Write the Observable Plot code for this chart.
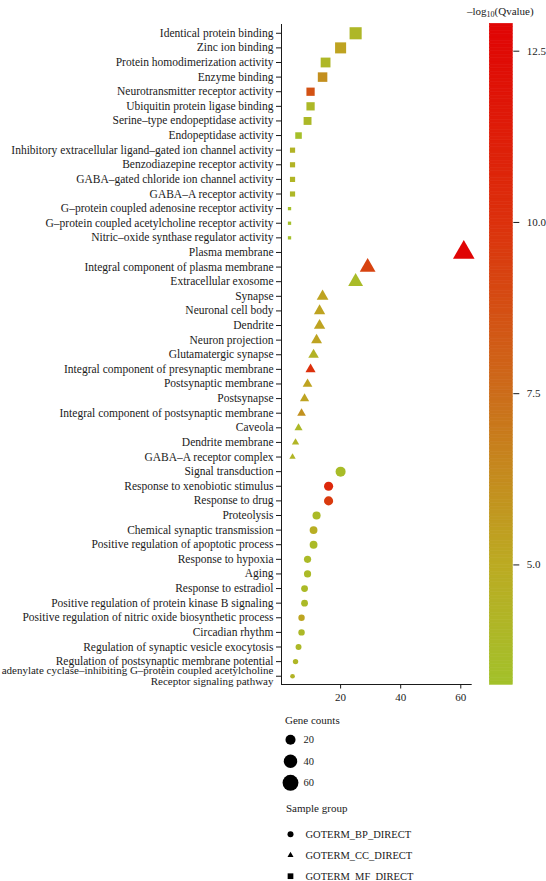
<!DOCTYPE html>
<html><head><meta charset="utf-8">
<script src="https://cdn.jsdelivr.net/npm/d3@7"></script>
<script src="https://cdn.jsdelivr.net/npm/@observablehq/plot@0.6"></script>
<style>
body{margin:0;background:#fff;}
#wrap{position:relative;width:546px;height:881px;font-family:"Liberation Serif",serif;color:#1a1a1a;overflow:hidden;}
#wrap > *{position:absolute;}
.ttl{font-size:11px;white-space:nowrap;}
sub{font-size:8px;vertical-align:-2px;}
</style></head><body><div id="wrap"></div>
<script>
// ---- data ----
const mfTerms = ["Identical protein binding","Zinc ion binding","Protein homodimerization activity","Enzyme binding","Neurotransmitter receptor activity","Ubiquitin protein ligase binding","Serine–type endopeptidase activity","Endopeptidase activity","Inhibitory extracellular ligand–gated ion channel activity","Benzodiazepine receptor activity","GABA–gated chloride ion channel activity","GABA–A receptor activity","G–protein coupled adenosine receptor activity","G–protein coupled acetylcholine receptor activity","Nitric–oxide synthase regulator activity"];
const mfCounts = [25,20,15,14,10,10,9,6,4,4,4,4,3,3,3];
const mfLogQ = [4.0,5.3,4.0,6.1,8.6,3.9,3.9,3.4,4.3,4.3,4.2,4.0,3.3,3.3,3.3];

const ccTerms = ["Plasma membrane","Integral component of plasma membrane","Extracellular exosome","Synapse","Neuronal cell body","Dendrite","Neuron projection","Glutamatergic synapse","Integral component of presynaptic membrane","Postsynaptic membrane","Postsynapse","Integral component of postsynaptic membrane","Caveola","Dendrite membrane","GABA–A receptor complex"];
const ccCounts = [61,29,25,14,13,13,12,11,10,9,8,7,6,5,4];
const ccLogQ = [12.9,9.2,3.7,5.3,5.3,5.3,5.3,4.4,10.0,5.3,5.3,6.0,3.9,4.2,4.2];

const bpTerms = ["Signal transduction","Response to xenobiotic stimulus","Response to drug","Proteolysis","Chemical synaptic transmission","Positive regulation of apoptotic process","Response to hypoxia","Aging","Response to estradiol","Positive regulation of protein kinase B signaling","Positive regulation of nitric oxide biosynthetic process","Circadian rhythm","Regulation of synaptic vesicle exocytosis","Regulation of postsynaptic membrane potential","adenylate cyclase–inhibiting G–protein coupled acetylcholine\nReceptor signaling pathway"];
const bpCounts = [20,16,16,12,11,11,9,9,8,8,7,7,6,5,4];
const bpLogQ = [3.6,10.5,9.6,3.8,4.7,3.8,3.8,3.8,3.8,3.8,5.2,3.9,3.9,4.1,4.3];

const groupNames = ["GOTERM_BP_DIRECT","GOTERM_CC_DIRECT","GOTERM_MF_DIRECT"];
const xTicks = [20,40,60];
const colorTicks = [5,7.5,10,12.5];
const sizeBreaks = [20,40,60];

// colour ramp stops
const colorStops = [3.25,5,7.5,10,12.9];
const colorStopColors = ["#a3c12a","#bcaa22","#cc6c1a","#dc300c","#e00404"];

// ---- build table ----
const rows = [];
function add(terms, counts, logq, group){ terms.forEach((t,i)=>rows.push({term:t,count:counts[i],logq:logq[i],group})); }
add(mfTerms, mfCounts, mfLogQ, "GOTERM_MF_DIRECT");
add(ccTerms, ccCounts, ccLogQ, "GOTERM_CC_DIRECT");
add(bpTerms, bpCounts, bpLogQ, "GOTERM_BP_DIRECT");
const order = [...mfTerms, ...ccTerms, ...bpTerms];
const minCount = d3.min(rows, d=>d.count), maxCount = d3.max(rows, d=>d.count);
const colorDomain = [colorStops[0], colorStops[colorStops.length-1]];
const xDomain = [0.33, 63.8];

// custom symbols (ggplot-like proportions)
function sq(k){return {draw(ctx,size){const r=Math.sqrt(size/Math.PI)*k; ctx.rect(-r,-r,2*r,2*r);}};}
function tri(k){return {draw(ctx,size){const r=Math.sqrt(size/Math.PI); const w=2*r*k; const R=w/Math.sqrt(3); ctx.moveTo(0,-R); ctx.lineTo(w/2,R/2); ctx.lineTo(-w/2,R/2); ctx.closePath();}};}
const symMain = {GOTERM_BP_DIRECT:"circle", GOTERM_CC_DIRECT:tri(1.35), GOTERM_MF_DIRECT:sq(1.1)};
const symLegend = {GOTERM_BP_DIRECT:"circle", GOTERM_CC_DIRECT:tri(1.0), GOTERM_MF_DIRECT:sq(0.95)};

const rScale = {type:"sqrt", domain:[0, maxCount-minCount], range:[1.5, 8]};
const colorScale = {type:"linear", domain:colorStops, range:colorStopColors, interpolate:"rgb"};
const font = (s)=>({fontFamily:'"Liberation Serif", serif', fontSize:s, color:"#1a1a1a", background:"transparent"});

const wrap = document.getElementById("wrap");

// ---- main plot ----
const W = 546, H = 881, mL = 281, mR = 74.3, mT = 24, mB = 196.5;
const main = Plot.plot({
  width:W, height:H,
  marginLeft:mL, marginRight:mR, marginTop:mT, marginBottom:mB,
  style:font("11.5px"),
  x:{domain:xDomain, label:null},
  y:{type:"point", domain:order, padding:0.6, round:false, label:null},
  r:rScale, color:colorScale,
  marks: [
    Plot.axisX({ticks:xTicks, tickSize:4, tickPadding:4, label:null, fontSize:11}),
    Plot.axisY({tickSize:5, tickPadding:3, label:null, lineHeight:0.95,
      fontSize: d => d.includes("\n") ? 11 : 11.5}),
    Plot.ruleX([xDomain[0]], {stroke:"#1a1a1a"}),
    ...groupNames.map(g => Plot.dot(rows.filter(d=>d.group===g), {
      x:"count", y:"term", r:d=>d.count-minCount, fill:"logq", symbol:symMain[g]
    }))
  ]
});
// x axis line along the bottom of the frame
{
  const svgNS = "http://www.w3.org/2000/svg";
  const ln = document.createElementNS(svgNS, "line");
  ln.setAttribute("x1", mL); ln.setAttribute("x2", W-mR);
  ln.setAttribute("y1", H-mB); ln.setAttribute("y2", H-mB);
  ln.setAttribute("stroke", "#1a1a1a");
  main.appendChild(ln);
}
main.style.left="0px"; main.style.top="0px";
wrap.appendChild(main);

// ---- colorbar ----
const step = 0.05;
const cbSteps = d3.range(colorDomain[0], colorDomain[1], step);
const cb = Plot.plot({
  width:66, height:700, marginLeft:9.3, marginRight:33.7, marginTop:23.3, marginBottom:15.7,
  style:font("11px"),
  y:{domain:colorDomain, axis:"right", ticks:colorTicks, tickFormat:".1f", tickSize:6, tickPadding:8, label:null},
  color:colorScale,
  marks:[Plot.rect(cbSteps, {y1:d=>d, y2:d=>Math.min(d+step, colorDomain[1]), fill:d=>d, stroke:d=>d, strokeWidth:0.6})]
});
cb.style.left="480px"; cb.style.top="0px";
wrap.appendChild(cb);

const cbTitle = document.createElement("div");
cbTitle.className="ttl";
cbTitle.innerHTML = "–log<sub>10</sub>(Qvalue)";
cbTitle.style.left="467px"; cbTitle.style.top="5px";
wrap.appendChild(cbTitle);

// ---- size legend ----
const t1 = document.createElement("div");
t1.className="ttl"; t1.textContent="Gene counts";
t1.style.left="285px"; t1.style.top="714px";
wrap.appendChild(t1);

const sizeLeg = Plot.plot({
  width:120, height:68, marginLeft:0, marginRight:0, marginTop:0, marginBottom:0,
  style:font("10.5px"),
  y:{type:"point", domain:sizeBreaks, range:[11.3,54.3], padding:0, round:false, axis:null},
  r:rScale,
  marks:[
    Plot.dot(sizeBreaks, {y:d=>d, r:d=>d-minCount, fill:"black", frameAnchor:"left", dx:10}),
    Plot.text(sizeBreaks, {y:d=>d, text:d=>String(d), frameAnchor:"left", dx:23, textAnchor:"start", fill:"#1a1a1a"})
  ]
});
sizeLeg.style.left="280px"; sizeLeg.style.top="728px";
wrap.appendChild(sizeLeg);

// ---- symbol legend ----
const t2 = document.createElement("div");
t2.className="ttl"; t2.textContent="Sample group";
t2.style.left="286px"; t2.style.top="802px";
wrap.appendChild(t2);

const symLeg = Plot.plot({
  width:200, height:60, marginLeft:0, marginRight:0, marginTop:0, marginBottom:0,
  style:font("10.5px"),
  y:{type:"point", domain:groupNames, range:[11.7,53.7], padding:0, round:false, axis:null},
  marks:[
    ...groupNames.map(g => Plot.dot([g], {y:d=>d, r:3, fill:"black", symbol:symLegend[g], frameAnchor:"left", dx:10})),
    Plot.text(groupNames, {y:d=>d, text:d=>d, frameAnchor:"left", dx:25, textAnchor:"start", fill:"#1a1a1a"})
  ]
});
symLeg.style.left="280px"; symLeg.style.top="822px";
wrap.appendChild(symLeg);
</script>
</body></html>
